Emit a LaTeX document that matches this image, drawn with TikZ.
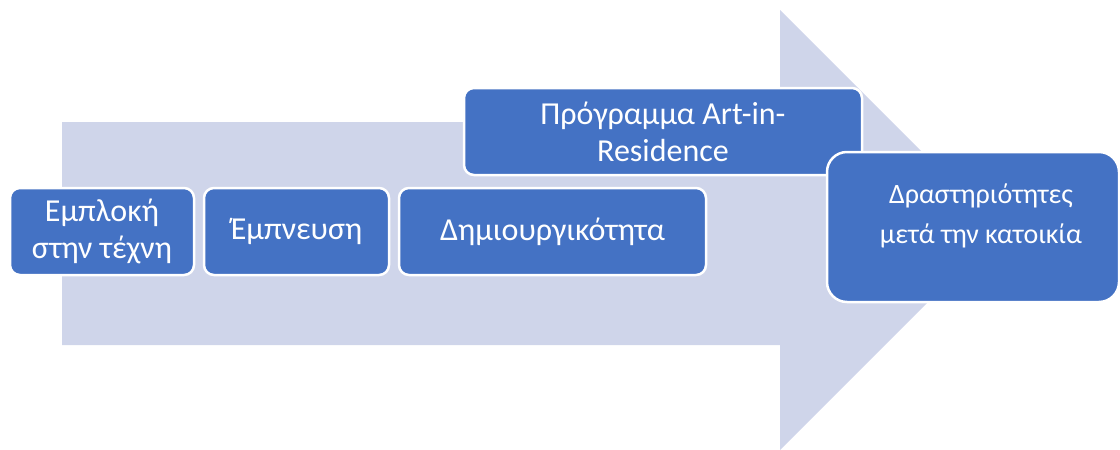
\documentclass[tikz,border=0pt]{standalone}
\usepackage{fontspec}
\setmainfont{Carlito}
\definecolor{arrowfill}{HTML}{CFD5EA}
\definecolor{boxfill}{HTML}{4472C4}
\begin{document}
\begin{tikzpicture}[x=1pt,y=-1pt,
  stepbox/.style={draw=white,line width=2.5pt,fill=boxfill,rounded corners=10pt,
    text=white,font=\fontsize{32}{37}\selectfont,align=center,inner sep=0pt}]
\useasboundingbox (0,0) rectangle (1120,450);
\fill[arrowfill] (62,122) -- (780,122) -- (780,10) -- (1000,230) -- (780,450) -- (780,345) -- (62,345) -- cycle;
\node[stepbox,minimum width=184pt,minimum height=87pt] (b1) at (102,231.5) {Εμπλοκή\\στην τέχνη};
\node[stepbox,minimum width=185pt,minimum height=87pt] (b2) at (296.5,231.5) {Έμπνευση};
\node[stepbox,minimum width=307pt,minimum height=87pt] (b3) at (552.5,231.5) {Δημιουργικότητα};
\node[stepbox,minimum width=398pt,minimum height=87pt] (b4) at (663,131.5) {Πρόγραμμα Art-in-\\Residence};
\node[stepbox,rounded corners=20pt,minimum width=292pt,minimum height=150pt] (b5) at (973,227) {};
\node[text=white,font=\fontsize{28}{40}\selectfont,align=center,anchor=north,inner sep=0pt] (t5) at (981,184) {Δραστηριότητες\\μετά την κατοικία};
\end{tikzpicture}
\end{document}
